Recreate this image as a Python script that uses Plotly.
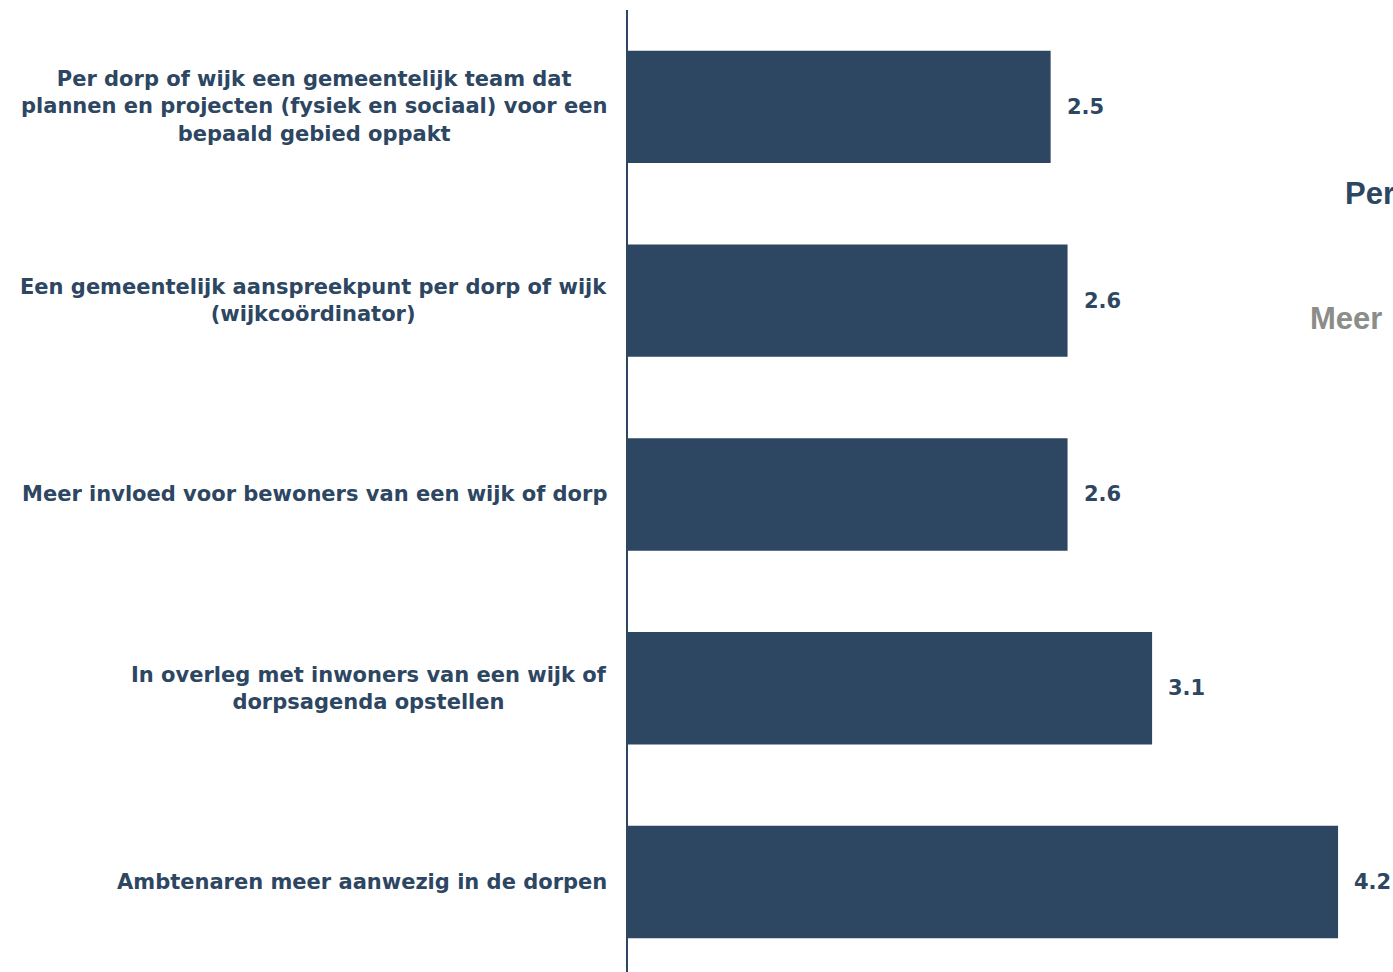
import plotly.graph_objects as go

categories = [
    "Per dorp of wijk een gemeentelijk team dat<br>plannen en projecten (fysiek en sociaal) voor een<br>bepaald gebied oppakt",
    "Een gemeentelijk aanspreekpunt per dorp of wijk<br>(wijkcoördinator)",
    "Meer invloed voor bewoners van een wijk of dorp",
    "In overleg met inwoners van een wijk of<br>dorpsagenda opstellen",
    "Ambtenaren meer aanwezig in de dorpen",
]
values = [2.5, 2.6, 2.6, 3.1, 4.2]
value_labels = ["2.5", "2.6", "2.6", "3.1", "4.2"]

# stukjes tekst van een andere grafiek die rechts in beeld vallen
side_texts = ["Per", "Meer"]
side_colors = ["#2D4662", "#8C8C88"]

navy = "#2D4662"
font_main = "DejaVu Sans"

fig = go.Figure()

fig.add_trace(go.Bar(
    x=values,
    y=categories,
    orientation='h',
    marker=dict(color=navy, line=dict(width=0)),
    width=0.58,
    hoverinfo='skip',
))

annotations = []
for cat, val, lab in zip(categories, values, value_labels):
    # waardelabel rechts van de balk
    annotations.append(dict(
        x=val, y=cat, xref='x', yref='y', text="<b>" + lab + "</b>",
        showarrow=False, xanchor='left', xshift=14,
        font=dict(family=font_main, size=21, color=navy),
    ))
    # categorielabel links, gecentreerd uitgelijnd
    annotations.append(dict(
        x=0, y=cat, xref='paper', yref='y', text="<b>" + cat + "</b>",
        showarrow=False, xanchor='right', xshift=-19, align='center',
        font=dict(family=font_main, size=21, color=navy),
    ))

# pixelposities van de zijteksten
side_px = [(1343, 193), (1308, 318)]

W, H = 1393, 972
ml, mr, mt, mb = 628, 0, 10, 0
for txt, col, (px, py) in zip(side_texts, side_colors, side_px):
    annotations.append(dict(
        x=(px - ml) / (W - ml - mr), y=1 - (py - mt) / (H - mt - mb),
        xref='paper', yref='paper', text="<b>" + txt + "</b>",
        showarrow=False, xanchor='left', yanchor='middle',
        font=dict(family="Liberation Sans", size=31, color=col),
    ))

fig.update_xaxes(
    range=[0, 4.525], showgrid=False, zeroline=False,
    showticklabels=False, showline=False,
)
fig.update_yaxes(
    categoryorder='array', categoryarray=categories,
    range=[4.4645, -0.5], showgrid=False, zeroline=False,
    showticklabels=False, showline=True, linecolor=navy, linewidth=2,
)

fig.update_layout(
    width=W, height=H,
    margin=dict(l=ml, r=mr, t=mt, b=mb),
    plot_bgcolor='white', paper_bgcolor='white',
    showlegend=False,
    annotations=annotations,
)

fig.write_html("out.html", config={'displayModeBar': False},
               post_script="document.body.style.margin='0';")
